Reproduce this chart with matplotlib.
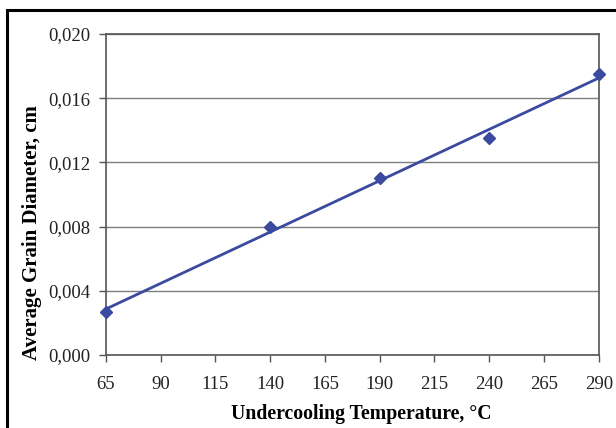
import matplotlib
matplotlib.use("Agg")
import matplotlib.pyplot as plt
from matplotlib.patches import Rectangle
import numpy as np

# measured points
temps = [65, 140, 190, 240, 290]
diameters = [0.0027, 0.0080, 0.0110, 0.0135, 0.0175]

x_ticks = [65, 90, 115, 140, 165, 190, 215, 240, 265, 290]
y_ticks = [0.000, 0.004, 0.008, 0.012, 0.016, 0.020]
y_tick_labels = ["0,000", "0,004", "0,008", "0,012", "0,016", "0,020"]

blue = "#3a4a9f"

plt.rcParams['font.family'] = ['Liberation Serif', 'DejaVu Serif']

fig = plt.figure(figsize=(6.16, 4.28), dpi=100)
ax = fig.add_axes([0.172, 0.1706, 0.8, 0.75])

# linear trend line
coef = np.polyfit(temps, diameters, 1)
xs = np.array([temps[0], temps[-1]])
ax.plot(xs, np.polyval(coef, xs), color=blue, lw=2, zorder=3)
ax.plot(temps, diameters, linestyle='none', marker='D', markersize=6,
        color=blue, zorder=4, clip_on=False)

ax.set_xlim(65, 290)
ax.set_ylim(0, 0.020)
ax.set_xticks(x_ticks)
ax.set_yticks(y_ticks)
ax.set_yticklabels(y_tick_labels)
ax.grid(axis='y', color='#7f7f7f', lw=1)
ax.set_axisbelow(True)

for s in ax.spines.values():
    s.set_color('#555555')
    s.set_linewidth(1.2)

ax.tick_params(axis='both', direction='out', length=5, width=1,
               color='#555555', labelsize=13.5, labelcolor='#222222')
ax.tick_params(axis='y', pad=6)
ax.tick_params(axis='x', pad=10)

ax.set_xlabel('Undercooling Temperature, °C', fontsize=14.2,
              fontweight='bold', x=0.519, labelpad=8)
ax.set_ylabel('Average Grain Diameter, cm', fontsize=15,
              fontweight='bold', y=0.38, labelpad=5)

# outer frame around the figure
fig.patches.append(Rectangle((0.0115, -0.05), 1.1, 1.027, transform=fig.transFigure,
                             fill=False, edgecolor='black', lw=2.2))

fig.savefig('out.png', dpi=100)
